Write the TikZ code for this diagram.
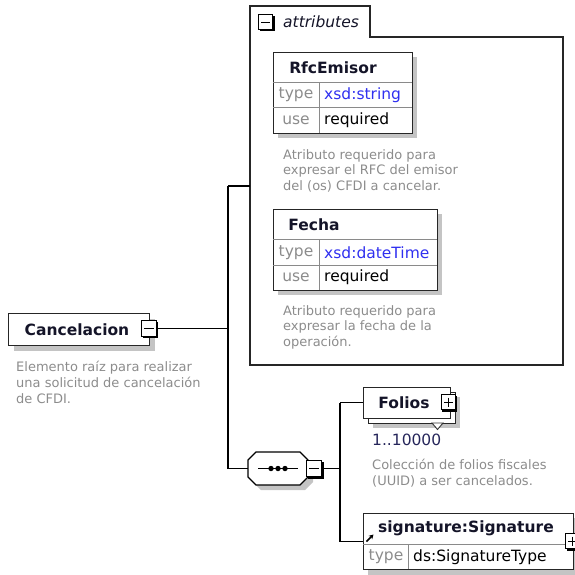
\documentclass[tikz,border=0pt]{standalone}
\usepackage{fontspec}
\setmainfont{DejaVu Sans}
\usetikzlibrary{arrows.meta,calc}
\definecolor{descgray}{HTML}{8C8C8C}
\definecolor{shadowgray}{HTML}{C4C4C4}
\definecolor{titlecol}{HTML}{141428}
\definecolor{xsdblue}{HTML}{3030F0}
\definecolor{navy}{HTML}{25255A}
\definecolor{rowline}{HTML}{8A8A8A}
\begin{document}
\begin{tikzpicture}[x=1pt,y=-1pt,
  box/.style={draw=black!85, line width=1.3pt, fill=white, inner sep=0pt, anchor=north west},
  title/.style={font=\bfseries\fontsize{15.5}{18}\selectfont, text=titlecol, inner sep=0pt},
  cell/.style={font=\fontsize{15.5}{18}\selectfont, inner sep=0pt, anchor=west},
  lbl/.style={cell, text=descgray, anchor=center},
  desc/.style={font=\fontsize{13}{15.8}\selectfont, text=descgray, align=left, anchor=north west, inner sep=0pt},
  tog/.style={draw=black, line width=1.3pt, fill=white, inner sep=0pt, minimum width=15pt, minimum height=16pt, anchor=north west},
  conn/.style={draw=black, line width=1.2pt},
  shade/.style={fill=shadowgray, draw=none},
  sep/.style={draw=rowline, line width=0.9pt}
]
\useasboundingbox (0,0) rectangle (575,574);

% ---------- Cancelacion ----------
\fill[shade] (14,319) rectangle (155,351);
\node[box, minimum width=141pt, minimum height=32pt] (canc) at (8,313) {};
\node[title] (canct) at (77,329.5) {Cancelacion};
\fill[black] (143,322) rectangle (158,338);
\node[tog] (cancT) at (141,320) {};
\draw[line width=1pt] ($(cancT.center)+(-5,0)$) -- ($(cancT.center)+(5,0)$);
\node[desc] (cancd) at (16,361) {Elemento raíz para realizar\\una solicitud de cancelación\\de CFDI.};

% ---------- junction coordinates ----------
\coordinate (jtop) at (228,186);
\coordinate (jbot) at (228,468.5);
\coordinate (attrL) at (250,186);

% ---------- attributes group ----------
\draw[line width=1.3pt, draw=black!85] (250,365) -- (250,6) -- (370,6) -- (370,37) -- (563,37) -- (563,365) -- cycle;
\fill[black] (259.5,15.5) rectangle (274.5,31);
\node[tog, minimum width=14pt, minimum height=15pt] (attrT) at (258,14) {};
\draw[line width=1pt] ($(attrT.center)+(-4.5,0)$) -- ($(attrT.center)+(4.5,0)$);
\node[font=\itshape\fontsize{15.5}{18}\selectfont, text=titlecol, anchor=west, inner sep=0pt] (attrt) at (283,22) {attributes};

% RfcEmisor
\fill[shade] (278,57) rectangle (417,138);
\node[box, minimum width=139pt, minimum height=81pt] (rfc) at (273,52) {};
\draw[sep] (273,82) -- (412,82);
\draw[sep] (273,107) -- (412,107);
\draw[sep] (319,82) -- (319,133);
\node[title] (rfct) at (333,67.5) {RfcEmisor};
\node[lbl] (rfcl1) at (296,95) {type};
\node[cell, text=xsdblue] (rfcv1) at (324,95) {xsd:string};
\node[lbl] (rfcl2) at (296,120) {use};
\node[cell] (rfcv2) at (324,120) {required};
\node[desc] (rfcd) at (283,149) {Atributo requerido para\\expresar el RFC del emisor\\del (os) CFDI a cancelar.};

% Fecha
\fill[shade] (278,214) rectangle (442,295);
\node[box, minimum width=164pt, minimum height=81pt] (fecha) at (273,209) {};
\draw[sep] (273,239) -- (437,239);
\draw[sep] (273,265) -- (437,265);
\draw[sep] (319,239) -- (319,290);
\node[title] (fechat) at (314,224.5) {Fecha};
\node[lbl] (fechal1) at (296,252.5) {type};
\node[cell, text=xsdblue] (fechav1) at (324,252.5) {xsd:dateTime};
\node[lbl] (fechal2) at (296,277.5) {use};
\node[cell] (fechav2) at (324,277.5) {required};
\node[desc] (fechad) at (283,305) {Atributo requerido para\\expresar la fecha de la\\operación.};

% ---------- sequence ----------
\fill[shade] (261,457) -- (305,457) -- (313,465) -- (313,482) -- (305,490) -- (261,490) -- (253,482) -- (253,465) -- cycle;
\draw[line width=1.3pt, fill=white] (256,452) -- (300,452) -- (308,460) -- (308,477) -- (300,485) -- (256,485) -- (248,477) -- (248,460) -- cycle;
\coordinate (seqW) at (248,468.5);
\draw[line width=1.1pt] (258,468.5) -- (298,468.5);
\foreach \dx in {271,278,285} \fill (\dx,468.5) circle (2.7);
\fill[black] (308,462) rectangle (324,479);
\node[tog, minimum width=15pt, minimum height=16pt] (seqT) at (306,460) {};
\draw[line width=1pt] ($(seqT.center)+(-5,0)$) -- ($(seqT.center)+(5,0)$);
\coordinate (j2top) at (340,402.5);
\coordinate (j2bot) at (340,541.5);

% ---------- Folios ----------
\fill[shade] (373,397) rectangle (460,428);
\node[box, minimum width=87pt, minimum height=31pt] (foliosb) at (368,392) {};
\node[box, minimum width=87pt, minimum height=31pt] (folios) at (363,387) {};
\draw[fill=white, draw=black!80, line width=0.9pt] (432,423) -- (443,423) -- (437.5,429.5) -- cycle;
\node[title] (foliost) at (404,402.5) {Folios};
\fill[black] (442,396) rectangle (457,412);
\node[tog, minimum width=14pt, minimum height=15pt] (foliosT) at (441,394) {};
\draw[line width=1pt] ($(foliosT.center)+(-4.5,0)$) -- ($(foliosT.center)+(4.5,0)$);
\draw[line width=1pt] ($(foliosT.center)+(0,-4.5)$) -- ($(foliosT.center)+(0,4.5)$);
\node[cell, text=navy] (foliosm) at (372,440) {1..10000};
\node[desc] (foliosd) at (372,459) {Colección de folios fiscales\\(UUID) a ser cancelados.};

% ---------- signature ----------
\fill[shade] (368,518) rectangle (580,575);
\node[box, minimum width=210pt, minimum height=56pt] (sig) at (363,513) {};
\draw[sep] (363,544) -- (573,544);
\draw[sep] (408,544) -- (408,569);
\node[title, anchor=west] (sigt) at (378,528.5) {signature:Signature};
\draw[-{Stealth[length=4.5pt,width=5pt]}, line width=1.6pt] (366.5,541.5) -- (373.5,534.5);
\node[lbl] (sigl) at (386,557) {type};
\node[cell] (sigv) at (413,557) {ds:SignatureType};
\fill[black] (567,535) rectangle (582,551);
\node[tog, minimum width=14pt, minimum height=15pt] (sigT) at (565,533) {};
\draw[line width=1pt] ($(sigT.center)+(-4.5,0)$) -- ($(sigT.center)+(4.5,0)$);
\draw[line width=1pt] ($(sigT.center)+(0,-4.5)$) -- ($(sigT.center)+(0,4.5)$);

% ---------- connectors ----------
\draw[conn] (cancT.east) -- (cancT.east -| jtop);
\draw[conn] (jtop) -- (jbot);
\draw[conn] (jtop) -- (attrL);
\draw[conn] (jbot) -- (seqW);
\draw[conn] (seqT.east) -- (seqT.east -| j2top);
\draw[conn] (j2top) -- (j2bot);
\draw[conn] (j2top) -- (j2top -| folios.west);
\draw[conn] (j2bot) -- (j2bot -| sig.west);
\end{tikzpicture}
\end{document}
